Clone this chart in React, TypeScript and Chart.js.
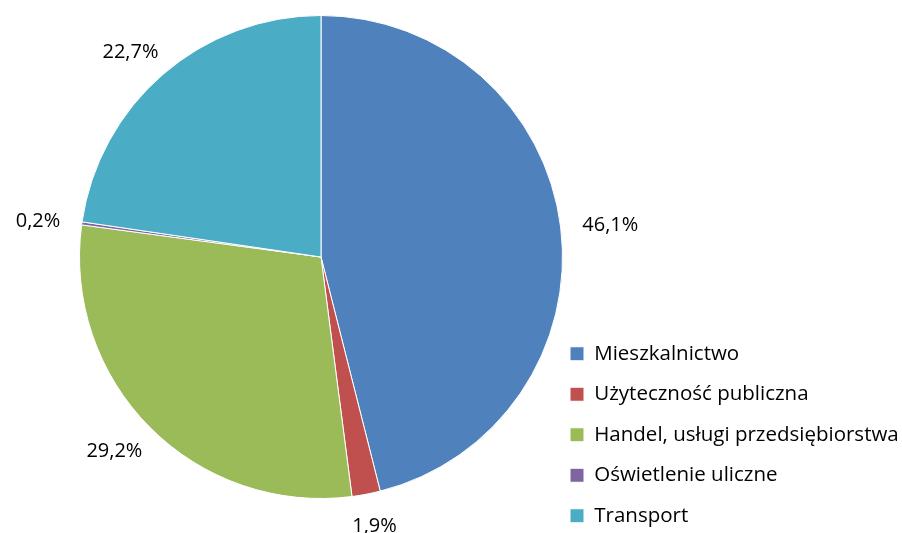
import React, { useEffect, useRef } from "react";
import { Chart, registerables } from "chart.js";

Chart.register(...registerables);

const categories = [
  "Mieszkalnictwo",
  "Użyteczność publiczna",
  "Handel, usługi przedsiębiorstwa",
  "Oświetlenie uliczne",
  "Transport",
];
const shares = [46.1, 1.9, 29.2, 0.2, 22.7];
const colors = ["#4F81BD", "#C0504D", "#9BBB59", "#8064A2", "#4BACC6"];

const FONT = "'Open Sans', Lato, sans-serif";
const LEGEND_LEFT = 550;
const LEGEND_BOTTOM = 546;

const labelPlugin = {
  id: "outsideLabels",
  afterLayout(chart: any) {
    const lg = chart.legend;
    if (lg) {
      const h = lg.bottom - lg.top;
      lg.left = LEGEND_LEFT;
      lg.right = chart.width + 20;
      lg.width = lg.right - lg.left;
      lg.bottom = LEGEND_BOTTOM;
      lg.top = LEGEND_BOTTOM - h;
    }
  },
  afterDatasetsDraw(chart: any) {
    const ctx = chart.ctx;
    const meta = chart.getDatasetMeta(0);
    ctx.save();
    ctx.font = `20px ${FONT}`;
    ctx.fillStyle = "#000";
    ctx.textAlign = "center";
    ctx.textBaseline = "middle";
    meta.data.forEach((arc: any, i: number) => {
      const { x, y, startAngle, endAngle, outerRadius } = arc.getProps(
        ["x", "y", "startAngle", "endAngle", "outerRadius"],
        true
      );
      const mid = (startAngle + endAngle) / 2;
      const dx = Math.cos(mid);
      const dy = Math.sin(mid);
      const text = shares[i].toFixed(1).replace(".", ",") + "%";
      const w = ctx.measureText(text).width;
      const h = 18;
      const gap = 22;
      const ax = x + (outerRadius + gap) * dx + (w / 2) * dx;
      const ay = y + (outerRadius + gap) * dy + (h / 2) * dy + 2;
      ctx.fillText(text, ax, ay);
    });
    ctx.restore();
  },
};

export default function App() {
  const ref = useRef<HTMLCanvasElement>(null);
  useEffect(() => {
    document.body.style.margin = "0";
    const chart = new Chart(ref.current!, {
      type: "pie",
      data: {
        labels: categories,
        datasets: [
          {
            data: shares,
            backgroundColor: colors,
            borderColor: "#ffffff",
            borderWidth: 1,
          },
        ],
      },
      options: {
        responsive: false,
        animation: false,
        layout: { padding: { top: 15, bottom: 34, left: 79, right: 0 } },
        plugins: {
          tooltip: { enabled: false },
          legend: {
            position: "right",
            align: "end",
            maxWidth: 339,
            labels: {
              boxWidth: 14,
              boxHeight: 14,
              padding: 20,
              color: "#000",
              font: { family: FONT, size: 20.5 },
            },
          },
        },
      },
      plugins: [labelPlugin],
    });
    return () => chart.destroy();
  }, []);
  return (
    <div style={{ width: 902, height: 533 }}>
      <canvas ref={ref} width={902} height={533} />
    </div>
  );
}
